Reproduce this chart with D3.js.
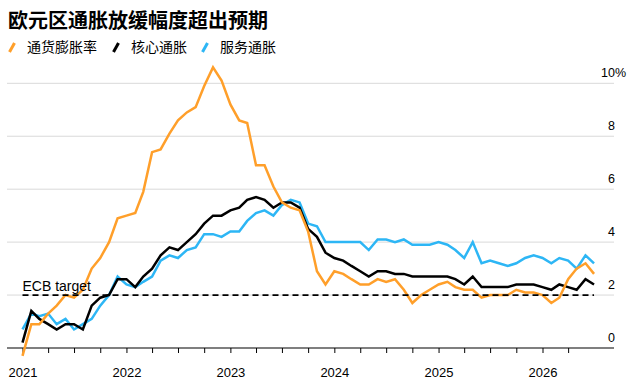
<!DOCTYPE html>
<html><head><meta charset="utf-8">
<script src="https://cdn.jsdelivr.net/npm/d3@7"></script>
<style>body{margin:0;background:#fff}svg{display:block}</style>
</head><body><svg id="c" width="639" height="380"></svg>
<script>
const title = "欧元区通胀放缓幅度超出预期";
const seriesNames = ["通货膨胀率", "核心通胀", "服务通胀"];
const seriesColors = ["#ff9f2a", "#000000", "#2db6f5"];
const headline = [-0.3,0.9,0.9,1.3,1.6,2.0,1.9,2.2,3.0,3.4,4.0,4.9,5.0,5.1,5.9,7.4,7.5,8.1,8.6,8.9,9.1,9.9,10.6,10.1,9.2,8.6,8.5,6.9,6.9,6.1,5.5,5.3,5.2,4.4,2.9,2.4,2.9,2.8,2.6,2.4,2.4,2.6,2.5,2.6,2.2,1.7,2.0,2.2,2.4,2.5,2.3,2.2,2.2,1.9,2.0,2.0,2.0,2.2,2.1,2.1,2.0,1.7,1.9,2.6,3.0,3.2,2.8];
const core = [0.2,1.4,1.1,0.9,0.7,0.9,0.9,0.7,1.6,1.9,2.0,2.6,2.6,2.3,2.7,3.0,3.5,3.8,3.7,4.0,4.3,4.7,5.0,5.0,5.2,5.3,5.6,5.7,5.6,5.3,5.5,5.5,5.3,4.5,4.2,3.6,3.4,3.3,3.1,2.9,2.7,2.9,2.9,2.8,2.8,2.7,2.7,2.7,2.7,2.7,2.6,2.4,2.7,2.3,2.3,2.3,2.3,2.4,2.4,2.4,2.3,2.2,2.4,2.3,2.2,2.6,2.4];
const services = [0.7,1.3,1.2,1.3,0.9,1.1,0.7,0.9,1.1,1.6,2.0,2.7,2.4,2.3,2.5,2.7,3.3,3.5,3.4,3.7,3.8,4.3,4.3,4.2,4.4,4.4,4.8,5.1,5.2,5.0,5.4,5.6,5.5,4.7,4.6,4.0,4.0,4.0,4.0,4.0,3.7,4.1,4.1,4.0,4.1,3.9,3.9,3.9,4.0,3.9,3.7,3.4,4.0,3.2,3.3,3.2,3.1,3.2,3.4,3.5,3.4,3.2,3.4,3.3,3.0,3.5,3.2];
const firstPointDate = "2021-01-01"; // monthly points, month-end readings
const yTicks = [0, 2, 4, 6, 8, 10];
const xYears = [2021, 2022, 2023, 2024, 2025, 2026];
const targetValue = 2;
const targetLabel = "ECB target";

const svg = d3.select("#c");
const latin = "'Liberation Sans', Arial, sans-serif";
const cjk = "'Noto Sans CJK SC', 'Liberation Sans', sans-serif";

const start = d3.timeParse("%Y-%m-%d")(firstPointDate);
const dates = d3.range(headline.length).map(i => d3.timeMonth.offset(start, i));

const x = d3.scaleTime()
  .domain([new Date(xYears[0], 0, 1), new Date(xYears[xYears.length - 1], 0, 1)])
  .range([22.5, 542.5]);
const y = d3.scaleLinear().domain([0, 10]).range([348, 83.3]);
const left = 7, right = 614;

// gridlines
svg.append("g").selectAll("line").data(yTicks.filter(d => d !== 0)).join("line")
  .attr("x1", left).attr("x2", right)
  .attr("y1", d => y(d)).attr("y2", d => y(d))
  .attr("stroke", "#d9d9d9").attr("stroke-width", 1);

// y labels
svg.append("g").selectAll("text").data(yTicks).join("text")
  .attr("x", 615).attr("y", d => y(d) - 6)
  .attr("text-anchor", "end")
  .attr("font-family", latin).attr("font-size", 12.5).attr("fill", "#000")
  .text(d => d);
svg.append("text").attr("x", 615).attr("y", y(yTicks[yTicks.length - 1]) - 6)
  .attr("font-family", latin).attr("font-size", 12.5).attr("fill", "#000").text("%");

// x axis
const quarterTicks = d3.timeMonth.every(3).range(new Date(xYears[0], 0, 1), x.invert(right - 20));
const xAxis = d3.axisBottom(x).tickValues(quarterTicks).tickSize(5)
  .tickFormat(d => d.getMonth() === 0 ? d3.timeFormat("%Y")(d) : "");
const gx = svg.append("g").attr("transform", "translate(0,348)").call(xAxis);
gx.select(".domain").remove();
gx.selectAll(".tick line").attr("stroke", "#000");
gx.selectAll(".tick text").attr("font-family", latin).attr("font-size", 13).attr("fill", "#000").attr("dy", null).attr("y", 29);
svg.append("line").attr("x1", left).attr("x2", right).attr("y1", 348).attr("y2", 348)
  .attr("stroke", "#000").attr("stroke-width", 1.2);

// series
const line = d3.line().x((d, i) => x(dates[i])).y(d => y(d));
const seriesData = [headline, core, services];
[2, 1, 0].forEach(k => {
  svg.append("path").datum(seriesData[k]).attr("d", line)
    .attr("fill", "none").attr("stroke", seriesColors[k])
    .attr("stroke-width", 2.5).attr("stroke-linejoin", "miter");
});

// target line
svg.append("line")
  .attr("x1", x(dates[0])).attr("x2", x(dates[dates.length - 1]))
  .attr("y1", y(targetValue)).attr("y2", y(targetValue))
  .attr("stroke", "#000").attr("stroke-width", 1.8).attr("stroke-dasharray", "6,4");
svg.append("text").attr("x", x(dates[0])).attr("y", y(targetValue) - 4)
  .attr("font-family", latin).attr("font-size", 14).attr("fill", "#000").text(targetLabel);

// title
svg.append("text").attr("x", 8).attr("y", 28)
  .attr("font-family", cjk).attr("font-size", 20).attr("font-weight", "bold").attr("fill", "#000")
  .text(title);

// legend
const legendX = [8, 112, 201];
seriesNames.forEach((n, k) => {
  const g = svg.append("g").attr("transform", `translate(${legendX[k]},0)`);
  g.append("line").attr("x1", 1.5).attr("y1", 52).attr("x2", 6.5).attr("y2", 43)
    .attr("stroke", seriesColors[k]).attr("stroke-width", 3);
  g.append("text").attr("x", 19).attr("y", 52)
    .attr("font-family", cjk).attr("font-size", 14).attr("fill", "#000").text(n);
});
</script>
</body></html>
